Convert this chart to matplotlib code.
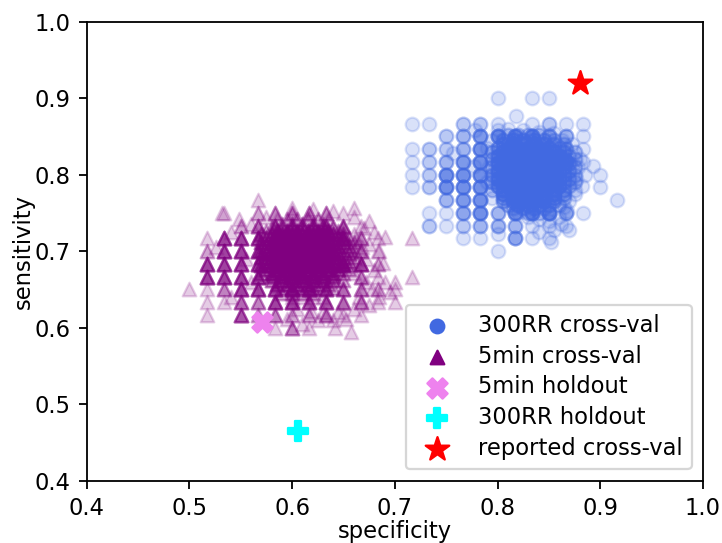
import numpy as np
import matplotlib
matplotlib.use('Agg')
import matplotlib.pyplot as plt

# ----- 300RR cross-validation: points on the 1/60 grid (spec, sens, overlap count) -----
rr_grid_spec = [0.8, 0.8333, 0.85,
                0.7167, 0.7333, 0.7667, 0.7833, 0.8, 0.8333, 0.85, 0.8667, 0.8833,
                0.75, 0.7667, 0.7833, 0.8, 0.8167, 0.8333, 0.85, 0.8667, 0.8833,
                0.7167, 0.7333, 0.75, 0.7667, 0.7833, 0.8667, 0.8833,
                0.7167, 0.7333, 0.75, 0.7667, 0.7833, 0.8667, 0.8833,
                0.7167, 0.7333, 0.75, 0.7667, 0.7833, 0.9,
                0.7167, 0.7333, 0.75, 0.7667, 0.7833, 0.9,
                0.75, 0.7667, 0.7833, 0.9167,
                0.7333, 0.75, 0.7667, 0.7833, 0.8, 0.8167, 0.8333, 0.85, 0.8667, 0.8833,
                0.7333, 0.75, 0.7667, 0.7833, 0.8, 0.8167, 0.8333, 0.85, 0.8667,
                0.7667, 0.7833, 0.8167, 0.8333, 0.85,
                0.8]
rr_grid_sens = [0.9, 0.9, 0.9,
                0.8667, 0.8667, 0.8667, 0.8667, 0.8667, 0.8667, 0.8667, 0.8667, 0.8667,
                0.85, 0.85, 0.85, 0.85, 0.85, 0.85, 0.85, 0.85, 0.85,
                0.8333, 0.8333, 0.8333, 0.8333, 0.8333, 0.8333, 0.8333,
                0.8167, 0.8167, 0.8167, 0.8167, 0.8167, 0.8167, 0.8167,
                0.8, 0.8, 0.8, 0.8, 0.8, 0.8,
                0.7833, 0.7833, 0.7833, 0.7833, 0.7833, 0.7833,
                0.7667, 0.7667, 0.7667, 0.7667,
                0.75, 0.75, 0.75, 0.75, 0.75, 0.75, 0.75, 0.75, 0.75, 0.75,
                0.7333, 0.7333, 0.7333, 0.7333, 0.7333, 0.7333, 0.7333, 0.7333, 0.7333,
                0.7167, 0.7167, 0.7167, 0.7167, 0.7167,
                0.7]
rr_grid_n = [1, 1, 1,
             1, 1, 2, 2, 1, 1, 2, 1, 1,
             2, 3, 5, 6, 6, 6, 3, 3, 1,
             1, 2, 2, 3, 6, 3, 1,
             1, 2, 3, 5, 6, 5, 1,
             1, 2, 6, 6, 6, 1,
             1, 2, 6, 6, 6, 1,
             3, 5, 6, 1,
             1, 1, 4, 6, 3, 6, 6, 6, 3, 1,
             2, 1, 2, 3, 3, 3, 1, 1, 1,
             1, 1, 4, 1, 1,
             1]

# ----- 300RR cross-validation: dense core (off-grid) -----
rr_core_spec = [0.805, 0.815, 0.825, 0.835, 0.845, 0.855,
                0.800, 0.810, 0.820, 0.830, 0.840, 0.850, 0.860,
                0.800, 0.810, 0.820, 0.830, 0.840, 0.850, 0.860, 0.870,
                0.800, 0.810, 0.820, 0.830, 0.840, 0.850, 0.860, 0.870,
                0.800, 0.810, 0.820, 0.830, 0.840, 0.850, 0.860, 0.870,
                0.800, 0.810, 0.820, 0.830, 0.840, 0.850, 0.860, 0.870,
                0.800, 0.810, 0.820, 0.830, 0.840, 0.850, 0.860, 0.870,
                0.805, 0.815, 0.825, 0.835, 0.845, 0.855, 0.865,
                0.805, 0.815, 0.825, 0.835, 0.845, 0.855,
                0.815, 0.825, 0.835, 0.845]
rr_core_sens = [0.845, 0.845, 0.845, 0.845, 0.845, 0.845,
                0.835, 0.835, 0.835, 0.835, 0.835, 0.835, 0.835,
                0.825, 0.825, 0.825, 0.825, 0.825, 0.825, 0.825, 0.825,
                0.815, 0.815, 0.815, 0.815, 0.815, 0.815, 0.815, 0.815,
                0.805, 0.805, 0.805, 0.805, 0.805, 0.805, 0.805, 0.805,
                0.795, 0.795, 0.795, 0.795, 0.795, 0.795, 0.795, 0.795,
                0.785, 0.785, 0.785, 0.785, 0.785, 0.785, 0.785, 0.785,
                0.775, 0.775, 0.775, 0.775, 0.775, 0.775, 0.775,
                0.765, 0.765, 0.765, 0.765, 0.765, 0.765,
                0.757, 0.757, 0.757, 0.757]
rr_core_n = [3, 4, 4, 4, 3, 2,
             4, 6, 6, 6, 6, 5, 3,
             5, 7, 8, 8, 8, 7, 5, 2,
             6, 8, 9, 10, 9, 8, 6, 3,
             6, 8, 10, 10, 10, 8, 6, 3,
             6, 8, 10, 10, 9, 8, 6, 3,
             5, 7, 8, 9, 8, 7, 5, 2,
             5, 6, 7, 7, 6, 5, 3,
             3, 5, 5, 5, 4, 3,
             2, 3, 3, 2]

# ----- 300RR cross-validation: in-between core points -----
rr_fill_spec = [0.810, 0.820, 0.830, 0.840, 0.850,
                0.805, 0.815, 0.825, 0.835, 0.845, 0.855, 0.865,
                0.795, 0.805, 0.815, 0.825, 0.835, 0.845, 0.855, 0.865, 0.875,
                0.795, 0.805, 0.815, 0.825, 0.835, 0.845, 0.855, 0.865, 0.875,
                0.795, 0.805, 0.815, 0.825, 0.835, 0.845, 0.855, 0.865, 0.875,
                0.795, 0.805, 0.815, 0.825, 0.835, 0.845, 0.855, 0.865, 0.875,
                0.795, 0.805, 0.815, 0.825, 0.835, 0.845, 0.855, 0.865, 0.875,
                0.795, 0.805, 0.815, 0.825, 0.835, 0.845, 0.855, 0.865, 0.875,
                0.805, 0.815, 0.825, 0.835, 0.845, 0.855, 0.865,
                0.810, 0.820, 0.830, 0.840, 0.850, 0.860,
                0.820, 0.830, 0.840, 0.850]
rr_fill_sens = [0.852, 0.852, 0.852, 0.852, 0.852,
                0.840, 0.840, 0.840, 0.840, 0.840, 0.840, 0.840,
                0.830, 0.830, 0.830, 0.830, 0.830, 0.830, 0.830, 0.830, 0.830,
                0.820, 0.820, 0.820, 0.820, 0.820, 0.820, 0.820, 0.820, 0.820,
                0.810, 0.810, 0.810, 0.810, 0.810, 0.810, 0.810, 0.810, 0.810,
                0.800, 0.800, 0.800, 0.800, 0.800, 0.800, 0.800, 0.800, 0.800,
                0.790, 0.790, 0.790, 0.790, 0.790, 0.790, 0.790, 0.790, 0.790,
                0.780, 0.780, 0.780, 0.780, 0.780, 0.780, 0.780, 0.780, 0.780,
                0.770, 0.770, 0.770, 0.770, 0.770, 0.770, 0.770,
                0.760, 0.760, 0.760, 0.760, 0.760, 0.760,
                0.750, 0.750, 0.750, 0.750]
rr_fill_n = [2, 2, 2, 2, 1,
             4, 5, 5, 5, 4, 3, 2,
             3, 5, 6, 7, 7, 6, 5, 3, 1,
             3, 6, 7, 8, 8, 7, 6, 4, 2,
             3, 6, 8, 8, 8, 8, 6, 4, 2,
             3, 6, 8, 8, 8, 7, 6, 4, 2,
             3, 6, 7, 8, 7, 6, 5, 3, 2,
             2, 5, 6, 7, 7, 6, 4, 3, 1,
             3, 5, 6, 6, 5, 4, 2,
             2, 4, 4, 4, 3, 2,
             1, 2, 2, 1]

# ----- 300RR cross-validation: faint halo -----
rr_halo_spec = [0.875, 0.880, 0.878, 0.885, 0.876, 0.882, 0.875, 0.870, 0.865, 0.860,
                0.850, 0.840, 0.830, 0.855, 0.862, 0.840, 0.800, 0.795, 0.790, 0.792,
                0.790, 0.795, 0.800, 0.810, 0.825, 0.840, 0.855, 0.863, 0.872, 0.778,
                0.777, 0.757, 0.870, 0.852, 0.818, 0.893, 0.868]
rr_halo_sens = [0.830, 0.820, 0.810, 0.800, 0.795, 0.785, 0.775, 0.765, 0.758, 0.745,
                0.740, 0.742, 0.745, 0.728, 0.735, 0.725, 0.722, 0.845, 0.835, 0.810,
                0.790, 0.770, 0.858, 0.860, 0.858, 0.856, 0.855, 0.845, 0.840, 0.859,
                0.811, 0.828, 0.728, 0.712, 0.877, 0.812, 0.752]

# ----- 5min cross-validation: points on the 1/60 grid -----
m5_grid_spec = [0.5667,
                0.5333, 0.5667, 0.5833, 0.6, 0.6167, 0.6333, 0.65,
                0.55, 0.5667, 0.5833, 0.6333, 0.65, 0.6667,
                0.5167, 0.5333, 0.55, 0.5667, 0.5833, 0.65, 0.6667, 0.6833, 0.7167,
                0.5167, 0.5333, 0.55, 0.5667, 0.6667, 0.6833,
                0.5167, 0.5333, 0.55, 0.5667, 0.65, 0.6667, 0.6833,
                0.5167, 0.5333, 0.55, 0.5667, 0.6667, 0.6833, 0.7167,
                0.5, 0.5167, 0.5333, 0.55, 0.5667, 0.5833, 0.6, 0.6167, 0.6333, 0.65, 0.6667, 0.6833, 0.7,
                0.5167, 0.5333, 0.55, 0.5667, 0.5833, 0.6, 0.6167, 0.6333, 0.65, 0.6667, 0.6833, 0.7,
                0.5167, 0.55, 0.5667, 0.5833, 0.6, 0.6167, 0.6333, 0.65, 0.6667,
                0.5833, 0.6, 0.6167]
m5_grid_sens = [0.7667,
                0.75, 0.75, 0.75, 0.75, 0.75, 0.75, 0.75,
                0.7333, 0.7333, 0.7333, 0.7333, 0.7333, 0.7333,
                0.7167, 0.7167, 0.7167, 0.7167, 0.7167, 0.7167, 0.7167, 0.7167, 0.7167,
                0.7, 0.7, 0.7, 0.7, 0.7, 0.7,
                0.6833, 0.6833, 0.6833, 0.6833, 0.6833, 0.6833, 0.6833,
                0.6667, 0.6667, 0.6667, 0.6667, 0.6667, 0.6667, 0.6667,
                0.65, 0.65, 0.65, 0.65, 0.65, 0.65, 0.65, 0.65, 0.65, 0.65, 0.65, 0.65, 0.65,
                0.6333, 0.6333, 0.6333, 0.6333, 0.6333, 0.6333, 0.6333, 0.6333, 0.6333, 0.6333, 0.6333, 0.6333,
                0.6167, 0.6167, 0.6167, 0.6167, 0.6167, 0.6167, 0.6167, 0.6167, 0.6167,
                0.6, 0.6, 0.6]
m5_grid_n = [1,
             1, 2, 3, 3, 3, 3, 1,
             2, 4, 5, 4, 3, 1,
             1, 6, 6, 6, 6, 6, 3, 1, 1,
             2, 6, 6, 6, 3, 1,
             6, 6, 6, 6, 6, 6, 2,
             6, 6, 6, 6, 3, 1, 1,
             1, 1, 3, 6, 6, 6, 6, 6, 5, 4, 3, 2, 1,
             1, 1, 4, 3, 6, 6, 5, 5, 3, 3, 1, 1,
             1, 5, 2, 3, 2, 2, 3, 1, 1,
             1, 3, 1]

# ----- 5min cross-validation: dense core (off-grid) -----
m5_core_spec = [0.590, 0.600, 0.610, 0.620, 0.630,
                0.575, 0.585, 0.595, 0.605, 0.615, 0.625, 0.635, 0.645,
                0.575, 0.585, 0.595, 0.605, 0.615, 0.625, 0.635, 0.645, 0.655,
                0.575, 0.585, 0.595, 0.605, 0.615, 0.625, 0.635, 0.645, 0.655,
                0.575, 0.585, 0.595, 0.605, 0.615, 0.625, 0.635, 0.645, 0.655,
                0.575, 0.585, 0.595, 0.605, 0.615, 0.625, 0.635, 0.645, 0.655,
                0.575, 0.585, 0.595, 0.605, 0.615, 0.625, 0.635, 0.645, 0.655,
                0.580, 0.590, 0.600, 0.610, 0.620, 0.630, 0.640,
                0.585, 0.595, 0.605, 0.615, 0.625, 0.635,
                0.590, 0.600, 0.610, 0.620]
m5_core_sens = [0.735, 0.735, 0.735, 0.735, 0.735,
                0.727, 0.727, 0.727, 0.727, 0.727, 0.727, 0.727, 0.727,
                0.717, 0.717, 0.717, 0.717, 0.717, 0.717, 0.717, 0.717, 0.717,
                0.707, 0.707, 0.707, 0.707, 0.707, 0.707, 0.707, 0.707, 0.707,
                0.697, 0.697, 0.697, 0.697, 0.697, 0.697, 0.697, 0.697, 0.697,
                0.687, 0.687, 0.687, 0.687, 0.687, 0.687, 0.687, 0.687, 0.687,
                0.677, 0.677, 0.677, 0.677, 0.677, 0.677, 0.677, 0.677, 0.677,
                0.667, 0.667, 0.667, 0.667, 0.667, 0.667, 0.667,
                0.657, 0.657, 0.657, 0.657, 0.657, 0.657,
                0.645, 0.645, 0.645, 0.645]
m5_core_n = [2, 3, 3, 3, 2,
             2, 4, 5, 5, 5, 5, 4, 2,
             4, 6, 8, 8, 8, 8, 6, 4, 2,
             5, 7, 9, 10, 10, 9, 7, 5, 3,
             5, 8, 10, 10, 10, 10, 8, 5, 3,
             5, 8, 10, 10, 10, 9, 7, 5, 3,
             4, 7, 8, 9, 9, 8, 6, 4, 2,
             4, 6, 7, 7, 6, 5, 3,
             3, 4, 4, 4, 3, 2,
             2, 2, 2, 2]

# ----- 5min cross-validation: in-between core points -----
m5_fill_spec = [0.585, 0.595, 0.605, 0.615, 0.625, 0.635,
                0.580, 0.590, 0.600, 0.610, 0.620, 0.630, 0.640, 0.650,
                0.570, 0.580, 0.590, 0.600, 0.610, 0.620, 0.630, 0.640, 0.650, 0.660,
                0.570, 0.580, 0.590, 0.600, 0.610, 0.620, 0.630, 0.640, 0.650, 0.660,
                0.570, 0.580, 0.590, 0.600, 0.610, 0.620, 0.630, 0.640, 0.650, 0.660,
                0.570, 0.580, 0.590, 0.600, 0.610, 0.620, 0.630, 0.640, 0.650, 0.660,
                0.570, 0.580, 0.590, 0.600, 0.610, 0.620, 0.630, 0.640, 0.650, 0.660,
                0.570, 0.580, 0.590, 0.600, 0.610, 0.620, 0.630, 0.640, 0.650, 0.660,
                0.580, 0.590, 0.600, 0.610, 0.620, 0.630, 0.640, 0.650,
                0.590, 0.600, 0.610, 0.620, 0.630, 0.640,
                0.600, 0.610, 0.620, 0.630]
m5_fill_sens = [0.742, 0.742, 0.742, 0.742, 0.742, 0.742,
                0.732, 0.732, 0.732, 0.732, 0.732, 0.732, 0.732, 0.732,
                0.722, 0.722, 0.722, 0.722, 0.722, 0.722, 0.722, 0.722, 0.722, 0.722,
                0.712, 0.712, 0.712, 0.712, 0.712, 0.712, 0.712, 0.712, 0.712, 0.712,
                0.702, 0.702, 0.702, 0.702, 0.702, 0.702, 0.702, 0.702, 0.702, 0.702,
                0.692, 0.692, 0.692, 0.692, 0.692, 0.692, 0.692, 0.692, 0.692, 0.692,
                0.682, 0.682, 0.682, 0.682, 0.682, 0.682, 0.682, 0.682, 0.682, 0.682,
                0.672, 0.672, 0.672, 0.672, 0.672, 0.672, 0.672, 0.672, 0.672, 0.672,
                0.662, 0.662, 0.662, 0.662, 0.662, 0.662, 0.662, 0.662,
                0.652, 0.652, 0.652, 0.652, 0.652, 0.652,
                0.640, 0.640, 0.640, 0.640]
m5_fill_n = [1, 2, 2, 2, 2, 1,
             2, 3, 4, 4, 4, 4, 3, 2,
             3, 5, 6, 7, 7, 7, 6, 5, 3, 1,
             4, 6, 8, 8, 8, 8, 7, 5, 3, 2,
             4, 6, 8, 9, 9, 8, 7, 5, 3, 2,
             4, 6, 8, 9, 9, 8, 7, 5, 3, 2,
             4, 6, 8, 8, 8, 8, 6, 4, 3, 1,
             3, 5, 7, 7, 7, 6, 5, 4, 2, 1,
             3, 4, 5, 5, 5, 4, 3, 2,
             2, 3, 3, 3, 2, 2,
             1, 1, 1, 1]

# ----- 5min cross-validation: faint halo -----
m5_halo_spec = [0.660, 0.675, 0.670, 0.680, 0.690, 0.675, 0.685, 0.672, 0.680, 0.690,
                0.695, 0.685, 0.675, 0.660, 0.645, 0.640, 0.625, 0.610, 0.642, 0.657,
                0.548, 0.532, 0.526, 0.560, 0.540, 0.555, 0.560, 0.540, 0.575, 0.600,
                0.620, 0.640, 0.660, 0.700, 0.595, 0.630, 0.652, 0.665, 0.668, 0.678,
                0.688, 0.662, 0.672, 0.650, 0.605, 0.618]
m5_halo_sens = [0.745, 0.740, 0.730, 0.725, 0.718, 0.710, 0.700, 0.690, 0.675, 0.660,
                0.647, 0.640, 0.630, 0.625, 0.620, 0.610, 0.610, 0.605, 0.600, 0.595,
                0.742, 0.750, 0.706, 0.735, 0.725, 0.690, 0.660, 0.640, 0.745, 0.757,
                0.755, 0.752, 0.757, 0.660, 0.612, 0.620, 0.612, 0.640, 0.705, 0.650,
                0.685, 0.715, 0.660, 0.632, 0.625, 0.622]

# ----- single-point results -----
m5_holdout = (0.571, 0.607)
rr_holdout = (0.606, 0.465)
reported_cv = (0.880, 0.920)


def expand(spec, sens, n):
    return np.repeat(spec, n), np.repeat(sens, n)


rr_parts = [expand(rr_grid_spec, rr_grid_sens, rr_grid_n),
            expand(rr_core_spec, rr_core_sens, rr_core_n),
            expand(rr_fill_spec, rr_fill_sens, rr_fill_n),
            (np.array(rr_halo_spec), np.array(rr_halo_sens))]
rr_x = np.concatenate([p[0] for p in rr_parts])
rr_y = np.concatenate([p[1] for p in rr_parts])

m5_parts = [expand(m5_grid_spec, m5_grid_sens, m5_grid_n),
            expand(m5_core_spec, m5_core_sens, m5_core_n),
            expand(m5_fill_spec, m5_fill_sens, m5_fill_n),
            (np.array(m5_halo_spec), np.array(m5_halo_sens))]
m5_x = np.concatenate([p[0] for p in m5_parts])
m5_y = np.concatenate([p[1] for p in m5_parts])

DPI = 163
fig = plt.figure(figsize=(722 / DPI, 543 / DPI), dpi=DPI)
ax = fig.add_axes([86.7 / 722, 62.3 / 543, 616.3 / 722, 459 / 543])

ax.scatter(rr_x, rr_y, color='royalblue', alpha=0.2, label='300RR cross-val')
ax.scatter(m5_x, m5_y, color='purple', marker='^', alpha=0.2, label='5min cross-val')
ax.scatter(*m5_holdout, color='violet', marker='X', s=80, label='5min holdout')
ax.scatter(*rr_holdout, color='cyan', marker='P', s=85, label='300RR holdout')
ax.scatter(*reported_cv, color='red', marker='*', s=120, label='reported cross-val')

ax.set_xlim(0.4, 1.0)
ax.set_ylim(0.4, 1.0)
ax.set_xlabel('specificity', labelpad=0)
ax.set_ylabel('sensitivity', labelpad=0)

leg = ax.legend(loc='lower right', labelspacing=0.35)
for lh in leg.legend_handles:
    lh.set_alpha(1)

fig.savefig('out.png', dpi=DPI)
